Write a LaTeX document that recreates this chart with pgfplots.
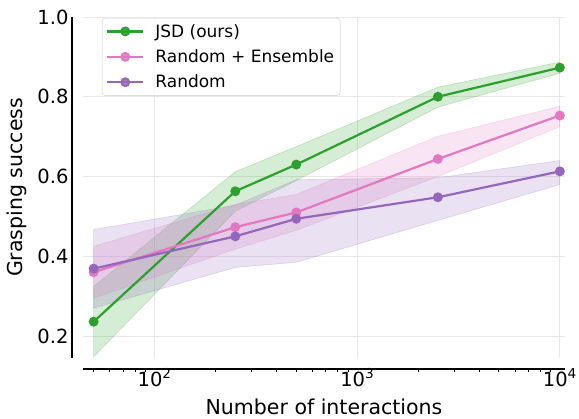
\documentclass[border=0pt]{standalone}
\usepackage{pgfplots}
\pgfplotsset{compat=1.18}
\usepackage{fontspec}
\setmainfont{DejaVu Sans}
\definecolor{cG}{HTML}{2CA02C}
\definecolor{cP}{HTML}{E377C2}
\definecolor{cV}{HTML}{9467BD}
\begin{document}
\begin{tikzpicture}
\begin{axis}[
  name=ax,
  scale only axis, width=482pt, height=341pt,
  xmode=log, xmin=44.3, xmax=10600, ymin=0.145, ymax=1.0,
  clip=false,
  axis line style={draw=none},
  xtick={100,1000,10000},
  xticklabels={10\textsuperscript{2},10\textsuperscript{3},10\textsuperscript{4}},
  minor xtick={50,60,70,80,90,200,300,400,500,600,700,800,900,2000,3000,4000,5000,6000,7000,8000,9000},
  ytick={0.2,0.4,0.6,0.8,1.0},
  yticklabels={0.2,0.4,0.6,0.8,1.0},
  grid=major,
  major grid style={color=black!9, line width=0.8pt},
  major tick length=0pt,
  minor tick length=3pt,
  tick align=outside,
  xtick pos=left, ytick pos=left,
  minor tick style={black, line width=0.8pt, yshift=-11pt},
  ticklabel style={font=\fontsize{19.5}{22}\selectfont},
  xticklabel style={yshift=-7pt},
  yticklabel style={xshift=-11pt},
  xlabel={Number of interactions},
  ylabel={Grasping success},
  label style={font=\fontsize{20.5}{24}\selectfont},
  xlabel style={at={([yshift=-57pt]axis description cs:0.5,0)}, anchor=base},
  ylabel style={at={([xshift=-61pt]axis description cs:0,0.5)}, anchor=base, rotate=0},
  legend style={at={(axis description cs:0.0394,0.997)}, anchor=north west,
    draw=black!20, rounded corners=3pt, fill=white, fill opacity=0.8, text opacity=1,
    font=\fontsize{17}{20}\selectfont, row sep=7pt, column sep=9pt, inner xsep=4pt, inner ysep=4pt},
  legend cell align=left,
  legend image code/.code={\draw[mark repeat=2,mark phase=2,#1] plot coordinates {(0pt,0pt) (18pt,0pt) (36pt,0pt)};},
]
% bands
\addplot[forget plot, draw=cG, draw opacity=0.25, fill=cG, fill opacity=0.2, line width=0.6pt] coordinates {
 (50,0.324) (250,0.612) (500,0.675) (2500,0.824) (10000,0.887)
 (10000,0.859) (2500,0.774) (500,0.590) (250,0.513) (50,0.148)} -- cycle;
\addplot[forget plot, draw=cP, draw opacity=0.25, fill=cP, fill opacity=0.2, line width=0.6pt] coordinates {
 (50,0.425) (250,0.530) (500,0.555) (2500,0.701) (10000,0.776)
 (10000,0.725) (2500,0.600) (500,0.465) (250,0.418) (50,0.295)} -- cycle;
\addplot[forget plot, draw=cV, draw opacity=0.25, fill=cV, fill opacity=0.2, line width=0.6pt] coordinates {
 (50,0.467) (250,0.528) (500,0.592) (2500,0.597) (10000,0.640)
 (10000,0.580) (2500,0.490) (500,0.385) (250,0.372) (50,0.270)} -- cycle;
% lines
\addplot[cG, line width=2.2pt, mark=*, mark size=3.8pt, mark options={solid, fill=cG}] coordinates {
 (50,0.236) (250,0.563) (500,0.630) (2500,0.800) (10000,0.873)};
\addlegendentry{JSD (ours)}
\addplot[cP, line width=2.2pt, mark=*, mark size=3.8pt, mark options={solid, fill=cP}] coordinates {
 (50,0.360) (250,0.473) (500,0.510) (2500,0.644) (10000,0.753)};
\addlegendentry{Random + Ensemble}
\addplot[cV, line width=2.2pt, mark=*, mark size=3.8pt, mark options={solid, fill=cV}] coordinates {
 (50,0.369) (250,0.450) (500,0.494) (2500,0.548) (10000,0.613)};
\addlegendentry{Random}
% offset spines
\draw[black, line width=2pt] ([xshift=-11pt]rel axis cs:0,0) -- ([xshift=-11pt]rel axis cs:0,1);
\draw[black, line width=2pt] ([yshift=-11pt]rel axis cs:0,0) -- ([yshift=-11pt]rel axis cs:1,0);
\end{axis}
\pgfresetboundingbox
\useasboundingbox ([shift={(-83pt,-61pt)}]ax.south west) rectangle ++(579pt,419pt);
\end{tikzpicture}
\end{document}
